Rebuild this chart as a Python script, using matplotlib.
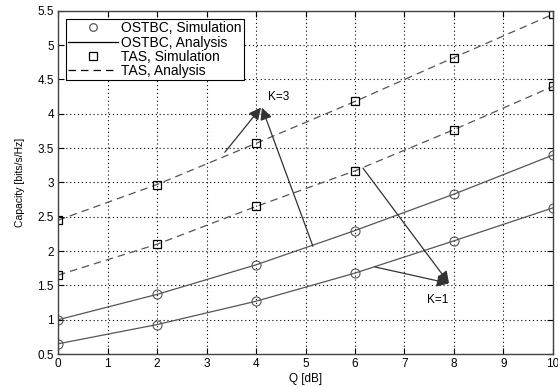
import numpy as np
import matplotlib.pyplot as plt
from matplotlib.ticker import FuncFormatter

plt.rcParams['font.family'] = ['Liberation Sans', 'DejaVu Sans']

# values
q_db = [0, 2, 4, 6, 8, 10]
ostbc_k1 = [0.65, 0.93, 1.27, 1.68, 2.15, 2.63]
ostbc_k3 = [1.00, 1.37, 1.80, 2.30, 2.83, 3.40]
tas_k1 = [1.65, 2.10, 2.65, 3.17, 3.77, 4.40]
tas_k3 = [2.45, 2.97, 3.57, 4.18, 4.82, 5.45]

fig = plt.figure(figsize=(5.58, 3.87), dpi=100)
ax = fig.add_axes([0.104, 0.085, 0.887, 0.887])

line_c = '#555555'
for y in [ostbc_k1, ostbc_k3]:
    ax.plot(q_db, y, '-', color=line_c, lw=0.9)
    ax.plot(q_db, y, 'o', mfc='none', mec=line_c, ms=6.5, mew=0.8)
for y in [tas_k1, tas_k3]:
    ax.plot(q_db, y, '--', color=line_c, lw=0.9, dashes=(6, 4))
    ax.plot(q_db, y, 's', mfc='none', mec='black', ms=5.5, mew=0.9)

# legend proxies
h1, = ax.plot([], [], 'o', mfc='none', mec=line_c, ms=5.5, mew=0.9, label='OSTBC, Simulation')
h2, = ax.plot([], [], '-', color='black', lw=0.9, label='OSTBC, Analysis')
h3, = ax.plot([], [], 's', mfc='none', mec='black', ms=5.5, mew=0.9, label='TAS, Simulation')
h4, = ax.plot([], [], '--', color='black', lw=0.9, dashes=(6, 4), label='TAS, Analysis')
leg = ax.legend(handles=[h1, h2, h3, h4], loc='upper left', fontsize=10,
                fancybox=False, edgecolor='black', framealpha=1,
                borderpad=0.15, labelspacing=0.02, handlelength=3.6,
                handletextpad=0.2, borderaxespad=0.6)
leg.get_frame().set_linewidth(0.8)

# annotations
arrow = dict(arrowstyle='-|>', color='#333333', lw=0.9, mutation_scale=18,
             shrinkA=0, shrinkB=0)
ax.annotate('', xy=(4.1, 4.09), xytext=(3.37, 3.44), arrowprops=arrow)
ax.annotate('', xy=(4.12, 4.09), xytext=(5.15, 2.07), arrowprops=arrow)
ax.text(4.24, 4.24, 'K=3', fontsize=8.5, va='center', ha='left')
ax.annotate('', xy=(7.9, 1.53), xytext=(6.16, 3.21), arrowprops=arrow)
ax.annotate('', xy=(7.9, 1.53), xytext=(6.4, 1.77), arrowprops=arrow)
ax.text(7.45, 1.29, 'K=1', fontsize=8.5, va='center', ha='left')

ax.set_xlim(0, 10)
ax.set_ylim(0.5, 5.5)
ax.set_xticks(np.arange(0, 11, 1))
ax.set_yticks(np.arange(0.5, 5.51, 0.5))
ax.yaxis.set_major_formatter(FuncFormatter(lambda v, p: f"{v:g}"))
ax.tick_params(direction='in', labelsize=8.5, length=4, top=True, right=True, pad=3)
ax.grid(True, linestyle=(0, (1, 2.5)), color='black', lw=0.8)
for s in ax.spines.values():
    s.set_color('#444444')
    s.set_linewidth(1.0)

ax.set_xlabel('Q [dB]', fontsize=8.5, labelpad=2)
ax.set_ylabel('Capacity [bits/s/Hz]', fontsize=7.5, labelpad=9)

fig.savefig('out.png', dpi=100)
